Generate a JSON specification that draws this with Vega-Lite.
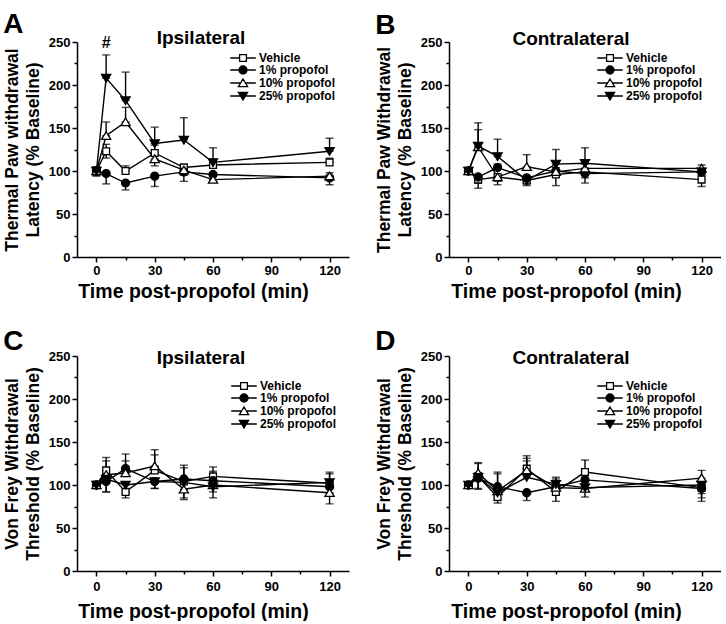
{
"$schema": "https://vega.github.io/schema/vega-lite/v6.json",
"padding": {"left": 3, "top": 10, "right": 0, "bottom": 0},
"config": {
  "view": {"stroke": null},
  "font": "Liberation Sans",
  "axis": {"domainColor": "black", "domainWidth": 1.5, "tickColor": "black", "tickWidth": 1.5, "grid": false,
    "labelFont": "Liberation Sans", "labelFontWeight": "bold", "labelFontSize": 13, "labelColor": "black", "labelPadding": 2,
    "titleFont": "Liberation Sans", "titleFontWeight": "bold", "titleColor": "black"},
  "axisX": {"titleFontSize": 19.5, "titlePadding": 5},
  "axisY": {"titleFontSize": 17.5, "titlePadding": 6, "titleLineHeight": 21},
  "legend": {"labelFont": "Liberation Sans", "labelFontWeight": "bold", "labelFontSize": 12, "labelColor": "black",
    "symbolStrokeWidth": 1.3, "symbolSize": 64, "labelOffset": 10, "rowPadding": -1.5, "padding": 0},
  "title": {"font": "Liberation Sans", "fontWeight": "bold", "color": "black"}
},
"datasets": {"d": [
{"p":"A","g":"Vehicle","t":0,"v":100,"lo":95,"hi":105},
{"p":"A","g":"Vehicle","t":5,"v":123,"lo":115,"hi":131},
{"p":"A","g":"Vehicle","t":15,"v":100,"lo":100,"hi":106},
{"p":"A","g":"Vehicle","t":30,"v":121,"lo":121,"hi":130},
{"p":"A","g":"Vehicle","t":45,"v":104,"lo":104,"hi":108},
{"p":"A","g":"Vehicle","t":60,"v":107,"lo":107,"hi":112},
{"p":"A","g":"Vehicle","t":120,"v":110,"lo":110,"hi":115},
{"p":"A","g":"1% propofol","t":0,"v":100,"lo":94,"hi":100},
{"p":"A","g":"1% propofol","t":5,"v":97,"lo":85,"hi":97},
{"p":"A","g":"1% propofol","t":15,"v":86,"lo":78,"hi":86},
{"p":"A","g":"1% propofol","t":30,"v":94,"lo":82,"hi":94},
{"p":"A","g":"1% propofol","t":45,"v":99,"lo":88,"hi":99},
{"p":"A","g":"1% propofol","t":60,"v":96,"lo":90,"hi":96},
{"p":"A","g":"1% propofol","t":120,"v":92,"lo":84,"hi":92},
{"p":"A","g":"10% propofol","t":0,"v":100,"lo":96,"hi":104},
{"p":"A","g":"10% propofol","t":5,"v":141,"lo":141,"hi":157},
{"p":"A","g":"10% propofol","t":15,"v":157,"lo":157,"hi":174},
{"p":"A","g":"10% propofol","t":30,"v":114,"lo":106,"hi":114},
{"p":"A","g":"10% propofol","t":45,"v":101,"lo":95,"hi":101},
{"p":"A","g":"10% propofol","t":60,"v":90,"lo":88,"hi":90},
{"p":"A","g":"10% propofol","t":120,"v":94,"lo":94,"hi":98},
{"p":"A","g":"25% propofol","t":0,"v":100,"lo":100,"hi":104},
{"p":"A","g":"25% propofol","t":5,"v":208,"lo":208,"hi":235},
{"p":"A","g":"25% propofol","t":15,"v":182,"lo":182,"hi":215},
{"p":"A","g":"25% propofol","t":30,"v":132,"lo":132,"hi":151},
{"p":"A","g":"25% propofol","t":45,"v":136,"lo":136,"hi":162},
{"p":"A","g":"25% propofol","t":60,"v":110,"lo":110,"hi":127},
{"p":"A","g":"25% propofol","t":120,"v":123,"lo":123,"hi":138},
{"p":"B","g":"Vehicle","t":0,"v":100,"lo":96,"hi":100},
{"p":"B","g":"Vehicle","t":5,"v":90,"lo":80,"hi":90},
{"p":"B","g":"Vehicle","t":15,"v":93,"lo":84,"hi":93},
{"p":"B","g":"Vehicle","t":30,"v":89,"lo":83,"hi":89},
{"p":"B","g":"Vehicle","t":45,"v":96,"lo":83,"hi":96},
{"p":"B","g":"Vehicle","t":60,"v":99,"lo":92,"hi":99},
{"p":"B","g":"Vehicle","t":120,"v":90,"lo":82,"hi":90},
{"p":"B","g":"1% propofol","t":0,"v":100,"lo":96,"hi":104},
{"p":"B","g":"1% propofol","t":5,"v":93,"lo":86,"hi":93},
{"p":"B","g":"1% propofol","t":15,"v":104,"lo":104,"hi":108},
{"p":"B","g":"1% propofol","t":30,"v":92,"lo":86,"hi":92},
{"p":"B","g":"1% propofol","t":45,"v":100,"lo":95,"hi":100},
{"p":"B","g":"1% propofol","t":60,"v":97,"lo":86,"hi":97},
{"p":"B","g":"1% propofol","t":120,"v":99,"lo":95,"hi":99},
{"p":"B","g":"10% propofol","t":0,"v":100,"lo":100,"hi":104},
{"p":"B","g":"10% propofol","t":5,"v":128,"lo":128,"hi":148},
{"p":"B","g":"10% propofol","t":15,"v":93,"lo":88,"hi":93},
{"p":"B","g":"10% propofol","t":30,"v":105,"lo":105,"hi":119},
{"p":"B","g":"10% propofol","t":45,"v":99,"lo":99,"hi":104},
{"p":"B","g":"10% propofol","t":60,"v":103,"lo":103,"hi":108},
{"p":"B","g":"10% propofol","t":120,"v":103,"lo":103,"hi":107},
{"p":"B","g":"25% propofol","t":0,"v":100,"lo":100,"hi":104},
{"p":"B","g":"25% propofol","t":5,"v":129,"lo":129,"hi":156},
{"p":"B","g":"25% propofol","t":15,"v":117,"lo":117,"hi":137},
{"p":"B","g":"25% propofol","t":30,"v":89,"lo":85,"hi":89},
{"p":"B","g":"25% propofol","t":45,"v":108,"lo":108,"hi":125},
{"p":"B","g":"25% propofol","t":60,"v":109,"lo":109,"hi":127},
{"p":"B","g":"25% propofol","t":120,"v":99,"lo":99,"hi":103},
{"p":"C","g":"Vehicle","t":0,"v":100,"lo":96,"hi":100},
{"p":"C","g":"Vehicle","t":5,"v":117,"lo":117,"hi":132},
{"p":"C","g":"Vehicle","t":15,"v":92,"lo":85,"hi":92},
{"p":"C","g":"Vehicle","t":30,"v":117,"lo":117,"hi":135},
{"p":"C","g":"Vehicle","t":45,"v":104,"lo":104,"hi":120},
{"p":"C","g":"Vehicle","t":60,"v":110,"lo":110,"hi":121},
{"p":"C","g":"Vehicle","t":120,"v":102,"lo":102,"hi":115},
{"p":"C","g":"1% propofol","t":0,"v":100,"lo":100,"hi":104},
{"p":"C","g":"1% propofol","t":5,"v":104,"lo":92,"hi":104},
{"p":"C","g":"1% propofol","t":15,"v":119,"lo":119,"hi":136},
{"p":"C","g":"1% propofol","t":30,"v":104,"lo":96,"hi":104},
{"p":"C","g":"1% propofol","t":45,"v":107,"lo":107,"hi":123},
{"p":"C","g":"1% propofol","t":60,"v":105,"lo":105,"hi":116},
{"p":"C","g":"1% propofol","t":120,"v":98,"lo":90,"hi":98},
{"p":"C","g":"10% propofol","t":0,"v":100,"lo":96,"hi":104},
{"p":"C","g":"10% propofol","t":5,"v":112,"lo":112,"hi":128},
{"p":"C","g":"10% propofol","t":15,"v":114,"lo":114,"hi":128},
{"p":"C","g":"10% propofol","t":30,"v":122,"lo":122,"hi":141},
{"p":"C","g":"10% propofol","t":45,"v":95,"lo":83,"hi":95},
{"p":"C","g":"10% propofol","t":60,"v":100,"lo":92,"hi":100},
{"p":"C","g":"10% propofol","t":120,"v":91,"lo":78,"hi":91},
{"p":"C","g":"25% propofol","t":0,"v":100,"lo":100,"hi":104},
{"p":"C","g":"25% propofol","t":5,"v":107,"lo":92,"hi":107},
{"p":"C","g":"25% propofol","t":15,"v":100,"lo":90,"hi":100},
{"p":"C","g":"25% propofol","t":30,"v":104,"lo":96,"hi":104},
{"p":"C","g":"25% propofol","t":45,"v":103,"lo":85,"hi":103},
{"p":"C","g":"25% propofol","t":60,"v":98,"lo":85,"hi":98},
{"p":"C","g":"25% propofol","t":120,"v":103,"lo":103,"hi":113},
{"p":"D","g":"Vehicle","t":0,"v":100,"lo":97,"hi":103},
{"p":"D","g":"Vehicle","t":5,"v":110,"lo":110,"hi":126},
{"p":"D","g":"Vehicle","t":15,"v":86,"lo":79,"hi":86},
{"p":"D","g":"Vehicle","t":30,"v":119,"lo":119,"hi":134},
{"p":"D","g":"Vehicle","t":45,"v":92,"lo":81,"hi":92},
{"p":"D","g":"Vehicle","t":60,"v":115,"lo":115,"hi":129},
{"p":"D","g":"Vehicle","t":120,"v":97,"lo":85,"hi":97},
{"p":"D","g":"1% propofol","t":0,"v":100,"lo":96,"hi":100},
{"p":"D","g":"1% propofol","t":5,"v":108,"lo":96,"hi":108},
{"p":"D","g":"1% propofol","t":15,"v":98,"lo":98,"hi":115},
{"p":"D","g":"1% propofol","t":30,"v":91,"lo":82,"hi":91},
{"p":"D","g":"1% propofol","t":45,"v":98,"lo":98,"hi":105},
{"p":"D","g":"1% propofol","t":60,"v":106,"lo":106,"hi":115},
{"p":"D","g":"1% propofol","t":120,"v":96,"lo":81,"hi":96},
{"p":"D","g":"10% propofol","t":0,"v":100,"lo":100,"hi":103},
{"p":"D","g":"10% propofol","t":5,"v":114,"lo":114,"hi":125},
{"p":"D","g":"10% propofol","t":15,"v":93,"lo":93,"hi":113},
{"p":"D","g":"10% propofol","t":30,"v":117,"lo":117,"hi":131},
{"p":"D","g":"10% propofol","t":45,"v":97,"lo":97,"hi":107},
{"p":"D","g":"10% propofol","t":60,"v":96,"lo":86,"hi":96},
{"p":"D","g":"10% propofol","t":120,"v":108,"lo":108,"hi":117},
{"p":"D","g":"25% propofol","t":0,"v":100,"lo":100,"hi":103},
{"p":"D","g":"25% propofol","t":5,"v":109,"lo":95,"hi":109},
{"p":"D","g":"25% propofol","t":15,"v":91,"lo":82,"hi":91},
{"p":"D","g":"25% propofol","t":30,"v":109,"lo":109,"hi":128},
{"p":"D","g":"25% propofol","t":45,"v":101,"lo":101,"hi":109},
{"p":"D","g":"25% propofol","t":60,"v":97,"lo":97,"hi":104},
{"p":"D","g":"25% propofol","t":120,"v":100,"lo":90,"hi":100}
]},
"columns": 2,
"spacing": {"row": 27, "column": 26},
"resolve": {"scale": {"x": "independent", "y": "independent", "shape": "independent", "fill": "independent", "stroke": "independent"}, "legend": {"shape": "independent", "fill": "independent", "stroke": "independent"}},
"concat": [
{
 "title": {"text": "A", "anchor": "start", "frame": "bounds", "fontSize": 28, "offset": -10},
 "vconcat": [{
  "title": {"text": "Ipsilateral", "fontSize": 19, "dx": -12, "offset": -13},
  "width": 272, "height": 215,
  "data": {"name": "d"},
  "transform": [{"filter": "datum.p === 'A'"}],
  "encoding": {
    "x": {"field": "t", "type": "quantitative", "scale": {"domain": [-10, 130], "nice": false, "zero": false},
      "axis": {"title": "Time post-propofol (min)", "values": [0, 15, 30, 45, 60, 75, 90, 105, 120], "labelExpr": "datum.value % 30 === 0 ? datum.label : ''", "tickSize": {"condition": {"test": "datum.value % 30 === 0", "value": 5}, "value": 3}, "titleX": 116}},
    "y": {"field": "v", "type": "quantitative", "scale": {"domain": [0, 250], "nice": false},
      "axis": {"title": ["Thermal Paw withdrawal", "Latency (% Baseline)"], "values": [0, 25, 50, 75, 100, 125, 150, 175, 200, 225, 250], "labelExpr": "datum.value % 50 === 0 ? datum.label : ''", "tickSize": {"condition": {"test": "datum.value % 50 === 0", "value": 5}, "value": 3}}}
  },
  "resolve": {"scale": {"shape": "independent", "fill": "independent", "stroke": "independent"}, "legend": {"shape": "independent", "fill": "independent", "stroke": "independent"}},
  "layer": [
   {"mark": {"type": "line", "color": "black", "strokeWidth": 1.4}, "encoding": {"detail": {"field": "g"}}},
   {"mark": {"type": "errorbar", "ticks": true, "color": "black", "thickness": 1.4, "size": 8}, "encoding": {"y": {"field": "lo", "type": "quantitative"}, "y2": {"field": "hi"}}},
   {"mark": {"type": "point", "filled": true, "opacity": 1, "stroke": "black", "strokeWidth": 1.3, "size": 64},
    "encoding": {
     "shape": {"field": "g", "type": "nominal", "scale": {"domain": ["Vehicle", "1% propofol", "10% propofol", "25% propofol"], "range": ["M-0.85,-0.85H0.85V0.85H-0.85Z", "M-1,0A1,1 0 1,0 1,0A1,1 0 1,0 -1,0Z", "M0,-1L1.15,0.9H-1.15Z", "M0,1L1.15,-0.9H-1.15Z"]}, "legend": null},
     "fill": {"field": "g", "type": "nominal", "scale": {"domain": ["Vehicle", "1% propofol", "10% propofol", "25% propofol"], "range": ["white", "black", "white", "black"]}, "legend": null}}},
   {"transform": [{"filter": "datum.g === '25% propofol' && datum.t === 5"}],
    "mark": {"type": "text", "text": "#", "dy": -12, "fontSize": 16, "fontWeight": "bold", "color": "black"},
    "encoding": {"y": {"field": "hi", "type": "quantitative"}}},
   {"transform": [{"filter": "false"}],
    "mark": {"type": "point", "filled": true, "opacity": 1, "strokeWidth": 1.3, "size": 64},
    "encoding": {
     "shape": {"field": "g", "type": "nominal", "scale": {"domain": ["Vehicle", "1% propofol", "10% propofol", "25% propofol"], "range": ["M-3.2,0H-0.85M0.85,0H3.2M-0.85,-0.85H0.85V0.85H-0.85Z", "M-3.2,0H3.2M-1,0A1,1 0 1,0 1,0A1,1 0 1,0 -1,0Z", "M-3.2,0H-0.6M0.6,0H3.2M0,-1L1.15,0.9H-1.15Z", "M-3.2,0H3.2M0,1L1.15,-0.9H-1.15Z"]}, "legend": {"title": null, "orient": "none", "legendX": 160, "legendY": 10}},
     "fill": {"field": "g", "type": "nominal", "scale": {"domain": ["Vehicle", "1% propofol", "10% propofol", "25% propofol"], "range": ["white", "black", "white", "black"]}, "legend": {"title": null, "orient": "none", "legendX": 160, "legendY": 10}},
     "stroke": {"field": "g", "type": "nominal", "scale": {"domain": ["Vehicle", "1% propofol", "10% propofol", "25% propofol"], "range": ["black", "black", "black", "black"]}, "legend": {"title": null, "orient": "none", "legendX": 160, "legendY": 10}}}}
  ]
 }]
},
{
 "title": {"text": "B", "anchor": "start", "frame": "bounds", "fontSize": 28, "offset": -10},
 "vconcat": [{
  "title": {"text": "Contralateral", "fontSize": 19, "dx": -14, "offset": -13},
  "width": 272, "height": 215,
  "data": {"name": "d"},
  "transform": [{"filter": "datum.p === 'B'"}],
  "encoding": {
    "x": {"field": "t", "type": "quantitative", "scale": {"domain": [-10, 130], "nice": false, "zero": false},
      "axis": {"title": "Time post-propofol (min)", "values": [0, 15, 30, 45, 60, 75, 90, 105, 120], "labelExpr": "datum.value % 30 === 0 ? datum.label : ''", "tickSize": {"condition": {"test": "datum.value % 30 === 0", "value": 5}, "value": 3}, "titleX": 117}},
    "y": {"field": "v", "type": "quantitative", "scale": {"domain": [0, 250], "nice": false},
      "axis": {"title": ["Thermal Paw Withdrawal", "Latency (% Baseline)"], "values": [0, 25, 50, 75, 100, 125, 150, 175, 200, 225, 250], "labelExpr": "datum.value % 50 === 0 ? datum.label : ''", "tickSize": {"condition": {"test": "datum.value % 50 === 0", "value": 5}, "value": 3}}}
  },
  "resolve": {"scale": {"shape": "independent", "fill": "independent", "stroke": "independent"}, "legend": {"shape": "independent", "fill": "independent", "stroke": "independent"}},
  "layer": [
   {"mark": {"type": "line", "color": "black", "strokeWidth": 1.4}, "encoding": {"detail": {"field": "g"}}},
   {"mark": {"type": "errorbar", "ticks": true, "color": "black", "thickness": 1.4, "size": 8}, "encoding": {"y": {"field": "lo", "type": "quantitative"}, "y2": {"field": "hi"}}},
   {"mark": {"type": "point", "filled": true, "opacity": 1, "stroke": "black", "strokeWidth": 1.3, "size": 64},
    "encoding": {
     "shape": {"field": "g", "type": "nominal", "scale": {"domain": ["Vehicle", "1% propofol", "10% propofol", "25% propofol"], "range": ["M-0.85,-0.85H0.85V0.85H-0.85Z", "M-1,0A1,1 0 1,0 1,0A1,1 0 1,0 -1,0Z", "M0,-1L1.15,0.9H-1.15Z", "M0,1L1.15,-0.9H-1.15Z"]}, "legend": null},
     "fill": {"field": "g", "type": "nominal", "scale": {"domain": ["Vehicle", "1% propofol", "10% propofol", "25% propofol"], "range": ["white", "black", "white", "black"]}, "legend": null}}},
   {"transform": [{"filter": "false"}],
    "mark": {"type": "point", "filled": true, "opacity": 1, "strokeWidth": 1.3, "size": 64},
    "encoding": {
     "shape": {"field": "g", "type": "nominal", "scale": {"domain": ["Vehicle", "1% propofol", "10% propofol", "25% propofol"], "range": ["M-3.2,0H-0.85M0.85,0H3.2M-0.85,-0.85H0.85V0.85H-0.85Z", "M-3.2,0H3.2M-1,0A1,1 0 1,0 1,0A1,1 0 1,0 -1,0Z", "M-3.2,0H-0.6M0.6,0H3.2M0,-1L1.15,0.9H-1.15Z", "M-3.2,0H3.2M0,1L1.15,-0.9H-1.15Z"]}, "legend": {"title": null, "orient": "none", "legendX": 155, "legendY": 10}},
     "fill": {"field": "g", "type": "nominal", "scale": {"domain": ["Vehicle", "1% propofol", "10% propofol", "25% propofol"], "range": ["white", "black", "white", "black"]}, "legend": {"title": null, "orient": "none", "legendX": 155, "legendY": 10}},
     "stroke": {"field": "g", "type": "nominal", "scale": {"domain": ["Vehicle", "1% propofol", "10% propofol", "25% propofol"], "range": ["black", "black", "black", "black"]}, "legend": {"title": null, "orient": "none", "legendX": 155, "legendY": 10}}}}
  ]
 }]
},
{
 "title": {"text": "C", "anchor": "start", "frame": "bounds", "fontSize": 28, "offset": -7},
 "vconcat": [{
  "title": {"text": "Ipsilateral", "fontSize": 19, "dx": -12, "offset": -18},
  "width": 272, "height": 215,
  "data": {"name": "d"},
  "transform": [{"filter": "datum.p === 'C'"}],
  "encoding": {
    "x": {"field": "t", "type": "quantitative", "scale": {"domain": [-10, 130], "nice": false, "zero": false},
      "axis": {"title": "Time post-propofol (min)", "values": [0, 15, 30, 45, 60, 75, 90, 105, 120], "labelExpr": "datum.value % 30 === 0 ? datum.label : ''", "tickSize": {"condition": {"test": "datum.value % 30 === 0", "value": 5}, "value": 3}, "titleX": 116, "labelPadding": 4, "titlePadding": 9}},
    "y": {"field": "v", "type": "quantitative", "scale": {"domain": [0, 250], "nice": false},
      "axis": {"title": ["Von Frey Withdrawal", "Threshold (% Baseline)"], "values": [0, 25, 50, 75, 100, 125, 150, 175, 200, 225, 250], "labelExpr": "datum.value % 50 === 0 ? datum.label : ''", "tickSize": {"condition": {"test": "datum.value % 50 === 0", "value": 5}, "value": 3}}}
  },
  "resolve": {"scale": {"shape": "independent", "fill": "independent", "stroke": "independent"}, "legend": {"shape": "independent", "fill": "independent", "stroke": "independent"}},
  "layer": [
   {"mark": {"type": "line", "color": "black", "strokeWidth": 1.4}, "encoding": {"detail": {"field": "g"}}},
   {"mark": {"type": "errorbar", "ticks": true, "color": "black", "thickness": 1.4, "size": 8}, "encoding": {"y": {"field": "lo", "type": "quantitative"}, "y2": {"field": "hi"}}},
   {"mark": {"type": "point", "filled": true, "opacity": 1, "stroke": "black", "strokeWidth": 1.3, "size": 64},
    "encoding": {
     "shape": {"field": "g", "type": "nominal", "scale": {"domain": ["Vehicle", "1% propofol", "10% propofol", "25% propofol"], "range": ["M-0.85,-0.85H0.85V0.85H-0.85Z", "M-1,0A1,1 0 1,0 1,0A1,1 0 1,0 -1,0Z", "M0,-1L1.15,0.9H-1.15Z", "M0,1L1.15,-0.9H-1.15Z"]}, "legend": null},
     "fill": {"field": "g", "type": "nominal", "scale": {"domain": ["Vehicle", "1% propofol", "10% propofol", "25% propofol"], "range": ["white", "black", "white", "black"]}, "legend": null}}},
   {"transform": [{"filter": "false"}],
    "mark": {"type": "point", "filled": true, "opacity": 1, "strokeWidth": 1.3, "size": 64},
    "encoding": {
     "shape": {"field": "g", "type": "nominal", "scale": {"domain": ["Vehicle", "1% propofol", "10% propofol", "25% propofol"], "range": ["M-3.2,0H-0.85M0.85,0H3.2M-0.85,-0.85H0.85V0.85H-0.85Z", "M-3.2,0H3.2M-1,0A1,1 0 1,0 1,0A1,1 0 1,0 -1,0Z", "M-3.2,0H-0.6M0.6,0H3.2M0,-1L1.15,0.9H-1.15Z", "M-3.2,0H3.2M0,1L1.15,-0.9H-1.15Z"]}, "legend": {"title": null, "orient": "none", "legendX": 161, "legendY": 24}},
     "fill": {"field": "g", "type": "nominal", "scale": {"domain": ["Vehicle", "1% propofol", "10% propofol", "25% propofol"], "range": ["white", "black", "white", "black"]}, "legend": {"title": null, "orient": "none", "legendX": 161, "legendY": 24}},
     "stroke": {"field": "g", "type": "nominal", "scale": {"domain": ["Vehicle", "1% propofol", "10% propofol", "25% propofol"], "range": ["black", "black", "black", "black"]}, "legend": {"title": null, "orient": "none", "legendX": 161, "legendY": 24}}}}
  ]
 }]
},
{
 "title": {"text": "D", "anchor": "start", "frame": "bounds", "fontSize": 28, "offset": -7},
 "vconcat": [{
  "title": {"text": "Contralateral", "fontSize": 19, "dx": -14, "offset": -18},
  "width": 272, "height": 215,
  "data": {"name": "d"},
  "transform": [{"filter": "datum.p === 'D'"}],
  "encoding": {
    "x": {"field": "t", "type": "quantitative", "scale": {"domain": [-10, 130], "nice": false, "zero": false},
      "axis": {"title": "Time post-propofol (min)", "values": [0, 15, 30, 45, 60, 75, 90, 105, 120], "labelExpr": "datum.value % 30 === 0 ? datum.label : ''", "tickSize": {"condition": {"test": "datum.value % 30 === 0", "value": 5}, "value": 3}, "titleX": 117, "labelPadding": 4, "titlePadding": 9}},
    "y": {"field": "v", "type": "quantitative", "scale": {"domain": [0, 250], "nice": false},
      "axis": {"title": ["Von Frey Withdrawal", "Threshold (% Baseline)"], "values": [0, 25, 50, 75, 100, 125, 150, 175, 200, 225, 250], "labelExpr": "datum.value % 50 === 0 ? datum.label : ''", "tickSize": {"condition": {"test": "datum.value % 50 === 0", "value": 5}, "value": 3}}}
  },
  "resolve": {"scale": {"shape": "independent", "fill": "independent", "stroke": "independent"}, "legend": {"shape": "independent", "fill": "independent", "stroke": "independent"}},
  "layer": [
   {"mark": {"type": "line", "color": "black", "strokeWidth": 1.4}, "encoding": {"detail": {"field": "g"}}},
   {"mark": {"type": "errorbar", "ticks": true, "color": "black", "thickness": 1.4, "size": 8}, "encoding": {"y": {"field": "lo", "type": "quantitative"}, "y2": {"field": "hi"}}},
   {"mark": {"type": "point", "filled": true, "opacity": 1, "stroke": "black", "strokeWidth": 1.3, "size": 64},
    "encoding": {
     "shape": {"field": "g", "type": "nominal", "scale": {"domain": ["Vehicle", "1% propofol", "10% propofol", "25% propofol"], "range": ["M-0.85,-0.85H0.85V0.85H-0.85Z", "M-1,0A1,1 0 1,0 1,0A1,1 0 1,0 -1,0Z", "M0,-1L1.15,0.9H-1.15Z", "M0,1L1.15,-0.9H-1.15Z"]}, "legend": null},
     "fill": {"field": "g", "type": "nominal", "scale": {"domain": ["Vehicle", "1% propofol", "10% propofol", "25% propofol"], "range": ["white", "black", "white", "black"]}, "legend": null}}},
   {"transform": [{"filter": "false"}],
    "mark": {"type": "point", "filled": true, "opacity": 1, "strokeWidth": 1.3, "size": 64},
    "encoding": {
     "shape": {"field": "g", "type": "nominal", "scale": {"domain": ["Vehicle", "1% propofol", "10% propofol", "25% propofol"], "range": ["M-3.2,0H-0.85M0.85,0H3.2M-0.85,-0.85H0.85V0.85H-0.85Z", "M-3.2,0H3.2M-1,0A1,1 0 1,0 1,0A1,1 0 1,0 -1,0Z", "M-3.2,0H-0.6M0.6,0H3.2M0,-1L1.15,0.9H-1.15Z", "M-3.2,0H3.2M0,1L1.15,-0.9H-1.15Z"]}, "legend": {"title": null, "orient": "none", "legendX": 155, "legendY": 24}},
     "fill": {"field": "g", "type": "nominal", "scale": {"domain": ["Vehicle", "1% propofol", "10% propofol", "25% propofol"], "range": ["white", "black", "white", "black"]}, "legend": {"title": null, "orient": "none", "legendX": 155, "legendY": 24}},
     "stroke": {"field": "g", "type": "nominal", "scale": {"domain": ["Vehicle", "1% propofol", "10% propofol", "25% propofol"], "range": ["black", "black", "black", "black"]}, "legend": {"title": null, "orient": "none", "legendX": 155, "legendY": 24}}}}
  ]
 }]
}
]
}
